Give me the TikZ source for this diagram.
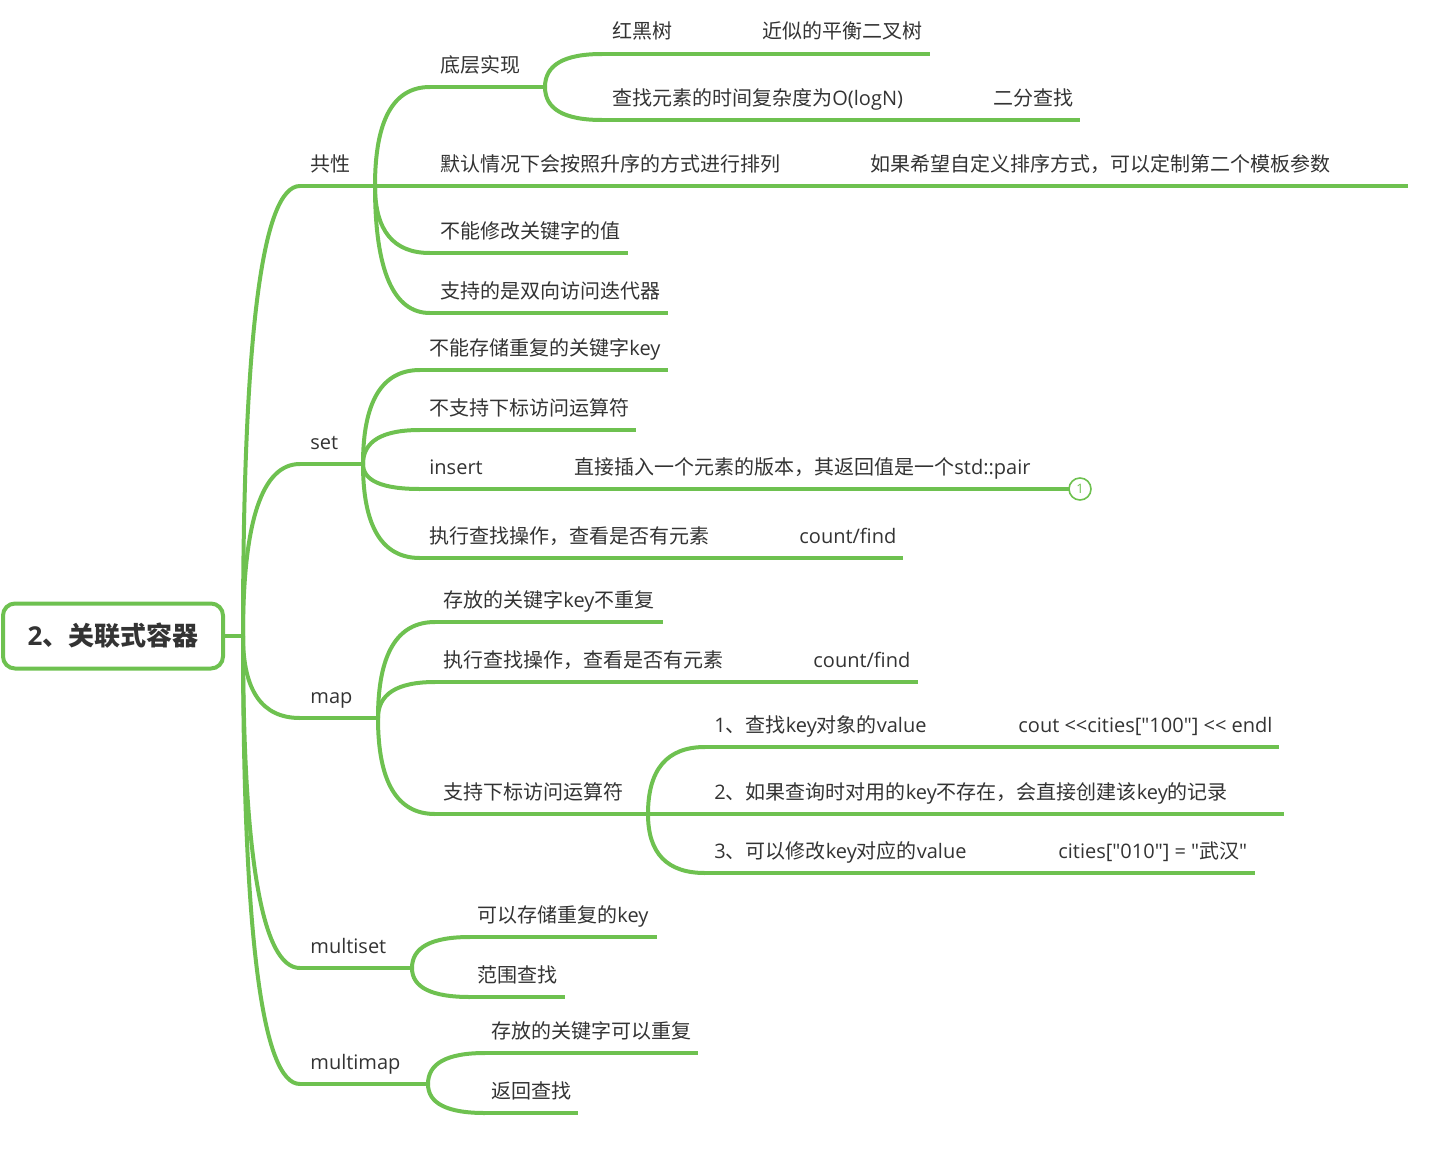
\documentclass[tikz,border=0pt]{standalone}
\usepackage{fontspec}
\setmainfont{Open Sans}[Ligatures=TeXOff]
\newfontfamily\cjk{Noto Sans CJK SC}[Ligatures=TeXOff]
\usetikzlibrary{calc}
\definecolor{brc}{RGB}{110,193,80}
\definecolor{txc}{RGB}{51,51,51}
\newcommand\zhf[1]{{\cjk #1}}
\newcommand\mcurve[2]{\draw[brl] (#1) .. controls ($(#1)!2/3!(#1|-#2)$) and ($(#2)!2/3!(#1|-#2)$) .. (#2);}
\newcommand\mtopic[6]{%
  \coordinate (#1-s) at (#2,#4);
  \coordinate (#1-e) at (#3,#4);
  \draw[brl] (#1-s) -- (#1-e);
  \node[lbl] (#1) at (#5,#4-15) {#6};}
\begin{document}
\begin{tikzpicture}[x=0.5pt,y=-0.5pt,
  brl/.style={draw=brc,line width=2pt},
  lbl/.style={anchor=base west,inner sep=0pt,text=txc,font=\fontsize{10pt}{12pt}\selectfont}]
\useasboundingbox (0,0) rectangle (1429,1151);
% root
\node[draw=brc,line width=2pt,rounded corners=6pt,fill=white,minimum width=110pt,minimum height=32.5pt,
  text=txc,font=\fontsize{13pt}{15pt}\selectfont\bfseries] (root) at (113,636) {2\zhf{、关联式容器}};
\coordinate (rootj) at (243,636);
\draw[brl] (root.east) -- (rootj);
% level 1
\mtopic{A}{300}{375}{186}{310}{\zhf{共性}}
\mtopic{B}{300}{363}{464}{310}{set}
\mtopic{C}{300}{378}{718}{310}{map}
\mtopic{D}{300}{412}{968}{310}{multiset}
\mtopic{E}{300}{428}{1084}{310}{multimap}
\mcurve{rootj}{A-s}
\mcurve{rootj}{B-s}
\mcurve{rootj}{C-s}
\mcurve{rootj}{D-s}
\mcurve{rootj}{E-s}
% A children
\mtopic{A1}{430}{545}{87}{440}{\zhf{底层实现}}
\mtopic{A2}{375}{790}{186}{440}{\zhf{默认情况下会按照升序的方式进行排列}}
\mtopic{A2a}{790}{1408}{186}{870}{\zhf{如果希望自定义排序方式，可以定制第二个模板参数}}
\mtopic{A3}{430}{628}{253}{440}{\zhf{不能修改关键字的值}}
\mtopic{A4}{430}{668}{313}{440}{\zhf{支持的是双向访问迭代器}}
\mcurve{A-e}{A1-s}
\mcurve{A-e}{A3-s}
\mcurve{A-e}{A4-s}
% A1 children
\mtopic{A1a}{602}{750}{54}{612}{\zhf{红黑树}}
\mtopic{A1a1}{750}{930}{54}{762}{\zhf{近似的平衡二叉树}}
\mtopic{A1b}{602}{983}{120}{612}{\zhf{查找元素的时间复杂度为}O(logN)}
\mtopic{A1b1}{983}{1080}{120}{993}{\zhf{二分查找}}
\mcurve{A1-e}{A1a-s}
\mcurve{A1-e}{A1b-s}
% B children
\mtopic{B1}{420}{668}{370}{429}{\zhf{不能存储重复的关键字}key}
\mtopic{B2}{420}{636}{430}{429}{\zhf{不支持下标访问运算符}}
\mtopic{B3}{420}{563}{489}{429}{insert}
\mtopic{B3a}{563}{1069}{489}{574}{\zhf{直接插入一个元素的版本，其返回值是一个}std::pair}
\mtopic{B4}{420}{788}{558}{429}{\zhf{执行查找操作，查看是否有元素}}
\mtopic{B4a}{788}{903}{558}{799}{count/find}
\mcurve{B-e}{B1-s}
\mcurve{B-e}{B2-s}
\mcurve{B-e}{B3-s}
\mcurve{B-e}{B4-s}
\node[circle,draw=brc,line width=0.8pt,fill=white,minimum size=11pt,inner sep=0pt,
  text=brc,font=\fontsize{6.5pt}{7pt}\selectfont] (n1) at (1080,489) {1};
\draw[brl] (B3a-e) -- (n1);
% C children
\mtopic{C1}{435}{663}{622}{443}{\zhf{存放的关键字}key\zhf{不重复}}
\mtopic{C2}{435}{802}{682}{443}{\zhf{执行查找操作，查看是否有元素}}
\mtopic{C2a}{802}{918}{682}{813}{count/find}
\mtopic{C3}{435}{648}{814}{443}{\zhf{支持下标访问运算符}}
\mcurve{C-e}{C1-s}
\mcurve{C-e}{C2-s}
\mcurve{C-e}{C3-s}
% C3 children
\mtopic{C3a}{705}{1008}{747}{714}{1\zhf{、查找}key\zhf{对象的}value}
\mtopic{C3a1}{1008}{1279}{747}{1018}{cout <{}<cities["100"] <{}< endl}
\mtopic{C3b}{648}{1284}{814}{714}{2\zhf{、如果查询时对用的}key\zhf{不存在，会直接创建该}key\zhf{的记录}}
\mtopic{C3c}{705}{1048}{873}{714}{3\zhf{、可以修改}key\zhf{对应的}value}
\mtopic{C3c1}{1048}{1255}{873}{1058}{cities["010"] = "\zhf{武汉}"}
\mcurve{C3-e}{C3a-s}
\mcurve{C3-e}{C3c-s}
% D children
\mtopic{D1}{470}{657}{937}{477}{\zhf{可以存储重复的}key}
\mtopic{D2}{470}{565}{997}{477}{\zhf{范围查找}}
\mcurve{D-e}{D1-s}
\mcurve{D-e}{D2-s}
% E children
\mtopic{E1}{485}{698}{1053}{491}{\zhf{存放的关键字可以重复}}
\mtopic{E2}{485}{578}{1113}{491}{\zhf{返回查找}}
\mcurve{E-e}{E1-s}
\mcurve{E-e}{E2-s}
\end{tikzpicture}
\end{document}
